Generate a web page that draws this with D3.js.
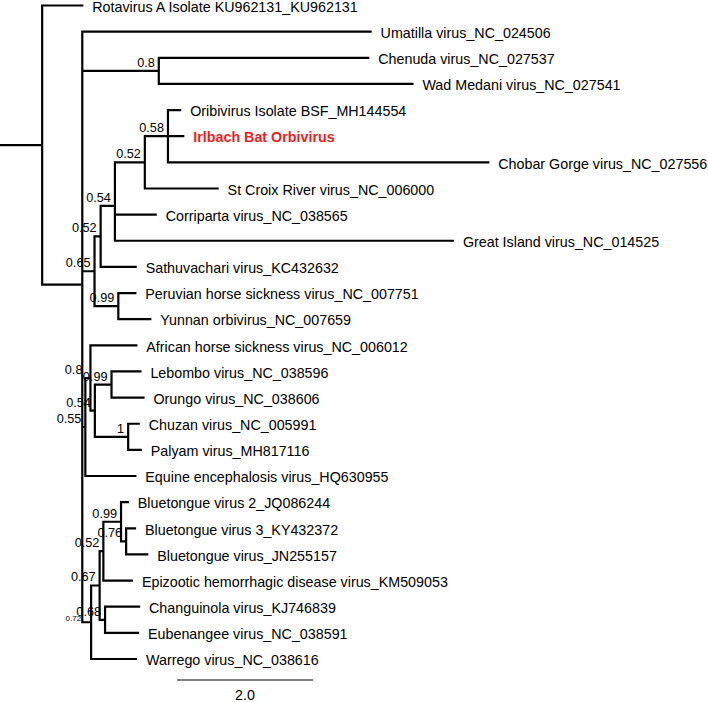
<!DOCTYPE html>
<html>
<head>
<meta charset="utf-8">
<script src="https://cdn.jsdelivr.net/npm/d3@7"></script>
<style>
  html, body { margin: 0; padding: 0; background: #fff; }
  svg { display: block; }
</style>
</head>
<body>
<svg id="chart" width="708" height="702"></svg>
<script>
// ---- Tree data (preorder, top to bottom) ----
const nodeIds = [
  "root",
  "Rotavirus A Isolate KU962131_KU962131",
  "I",
  "Umatilla virus_NC_024506",
  "CW",
  "Chenuda virus_NC_027537",
  "Wad Medani virus_NC_027541",
  "A",
  "B",
  "C",
  "N52",
  "N58",
  "Oribivirus Isolate BSF_MH144554",
  "Irlbach Bat Orbivirus",
  "Chobar Gorge virus_NC_027556",
  "St Croix River virus_NC_006000",
  "Corriparta virus_NC_038565",
  "Great Island virus_NC_014525",
  "Sathuvachari virus_KC432632",
  "PY",
  "Peruvian horse sickness virus_NC_007751",
  "Yunnan orbivirus_NC_007659",
  "F",
  "E",
  "African horse sickness virus_NC_006012",
  "D",
  "LO",
  "Lebombo virus_NC_038596",
  "Orungo virus_NC_038606",
  "CP",
  "Chuzan virus_NC_005991",
  "Palyam virus_MH817116",
  "Equine encephalosis virus_HQ630955",
  "L",
  "J",
  "H",
  "G",
  "Bluetongue virus 2_JQ086244",
  "BTn",
  "Bluetongue virus 3_KY432372",
  "Bluetongue virus_JN255157",
  "Epizootic hemorrhagic disease virus_KM509053",
  "K",
  "Changuinola virus_KJ746839",
  "Eubenangee virus_NC_038591",
  "Warrego virus_NC_038616"
];
const parentIds = [
  "",
  "root",
  "root",
  "I",
  "I",
  "CW",
  "CW",
  "I",
  "A",
  "B",
  "C",
  "N52",
  "N58",
  "N58",
  "N58",
  "N52",
  "C",
  "C",
  "B",
  "A",
  "PY",
  "PY",
  "I",
  "F",
  "E",
  "E",
  "D",
  "LO",
  "LO",
  "D",
  "CP",
  "CP",
  "F",
  "I",
  "L",
  "J",
  "H",
  "G",
  "G",
  "BTn",
  "BTn",
  "H",
  "J",
  "K",
  "K",
  "L"
];
const branchLengths = [
  0.62,
  0.59,
  0.59,
  4.24,
  1.125,
  3.08,
  3.73,
  0.18,
  0.09,
  0.21,
  0.44,
  0.34,
  0.18,
  0.225,
  4.71,
  1.07,
  0.60,
  4.97,
  0.515,
  0.35,
  0.25,
  0.47,
  0.045,
  0.075,
  0.675,
  0.065,
  0.245,
  0.425,
  0.47,
  0.49,
  0.155,
  0.185,
  0.735,
  0.13,
  0.125,
  0.055,
  0.26,
  0.10,
  0.075,
  0.13,
  0.31,
  0.42,
  0.08,
  0.50,
  0.485,
  0.66
];
const supportLabels = [
  "", "", "", "", "0.8", "", "", "0.65", "0.52", "0.54", "0.52", "0.58",
  "", "", "", "", "", "", "", "0.99", "", "", "0.55", "0.8", "", "0.54",
  "0.99", "", "", "1", "", "", "", "0.72", "0.67", "0.52", "0.99", "",
  "0.76", "", "", "", "0.68", "", "", ""
];
const highlightedTaxa = ["Irlbach Bat Orbivirus"];
const scaleBarValue = 2.0;
const scaleBarLabel = "2.0";

// ---- Styling / layout (not data) ----
const W = 708, H = 702;
const FONT = "'Liberation Sans', Arial, Helvetica, sans-serif";
const labelOverrides = {
  "L": { dx: -6, dy: 3, size: 8 },
  "E": { dx: -4, dy: 0 }
};

const rows = nodeIds.map((id, i) => ({
  id, parent: parentIds[i] || null, len: branchLengths[i], support: supportLabels[i]
}));
const root = d3.stratify().id(d => d.id).parentId(d => d.parent)(rows);

// cumulative depth
root.each(n => {
  n.depth_ = (n.parent ? n.parent.depth_ : 0) + n.data.len;
});

const x = d3.scaleLinear().domain([0, 1]).range([0, 68]);
const leaves = root.leaves();
const y = d3.scalePoint().domain(leaves.map(d => d.id)).range([5.5, 659]);

root.eachAfter(n => {
  n.px = x(n.depth_);
  if (!n.children) n.py = y(n.id);
  else n.py = d3.mean(n.children, c => c.py);
});

const svg = d3.select("#chart");
svg.append("rect").attr("width", W).attr("height", H).attr("fill", "#fff");

const g = svg.append("g");

// branches
const pathData = [];
root.each(n => {
  const x0 = n.parent ? n.parent.px : x(0);
  pathData.push(`M${x0},${n.py}H${n.px}`);
  if (n.children) {
    const ys = n.children.map(c => c.py);
    pathData.push(`M${n.px},${d3.min(ys)}V${d3.max(ys)}`);
  }
});
g.append("path")
  .attr("d", pathData.join(""))
  .attr("fill", "none")
  .attr("stroke", "#000")
  .attr("stroke-width", 2.2)
  .attr("stroke-linecap", "square");

// tip labels
g.selectAll("text.tip")
  .data(leaves)
  .join("text")
  .attr("class", "tip")
  .attr("x", d => d.px + 10)
  .attr("y", d => d.py)
  .attr("dy", "0.44em")
  .attr("font-family", FONT)
  .attr("font-size", "14.3px")
  .attr("font-weight", d => highlightedTaxa.includes(d.id) ? "bold" : "normal")
  .attr("fill", d => highlightedTaxa.includes(d.id) ? "#f21d1d" : "#000")
  .text(d => d.id);

// support labels
const internal = root.descendants().filter(d => d.data.support);
g.selectAll("text.sup")
  .data(internal)
  .join("text")
  .attr("class", "sup")
  .attr("x", d => d.px - 4 + ((labelOverrides[d.id] || {}).dx || 0))
  .attr("y", d => d.py - 4 + ((labelOverrides[d.id] || {}).dy || 0))
  .attr("text-anchor", "end")
  .attr("font-family", FONT)
  .attr("font-size", d => ((labelOverrides[d.id] || {}).size || 12.7) + "px")
  .attr("fill", "#000")
  .text(d => d.data.support);

// scale bar
const sbX = 177, sbY = 680;
g.append("line")
  .attr("x1", sbX).attr("x2", sbX + x(scaleBarValue) - x(0))
  .attr("y1", sbY).attr("y2", sbY)
  .attr("stroke", "#000").attr("stroke-width", 1.2);
g.append("text")
  .attr("x", sbX + (x(scaleBarValue) - x(0)) / 2)
  .attr("y", 700)
  .attr("text-anchor", "middle")
  .attr("font-family", FONT)
  .attr("font-size", "14.3px")
  .attr("fill", "#000")
  .text(scaleBarLabel);
</script>
</body>
</html>
